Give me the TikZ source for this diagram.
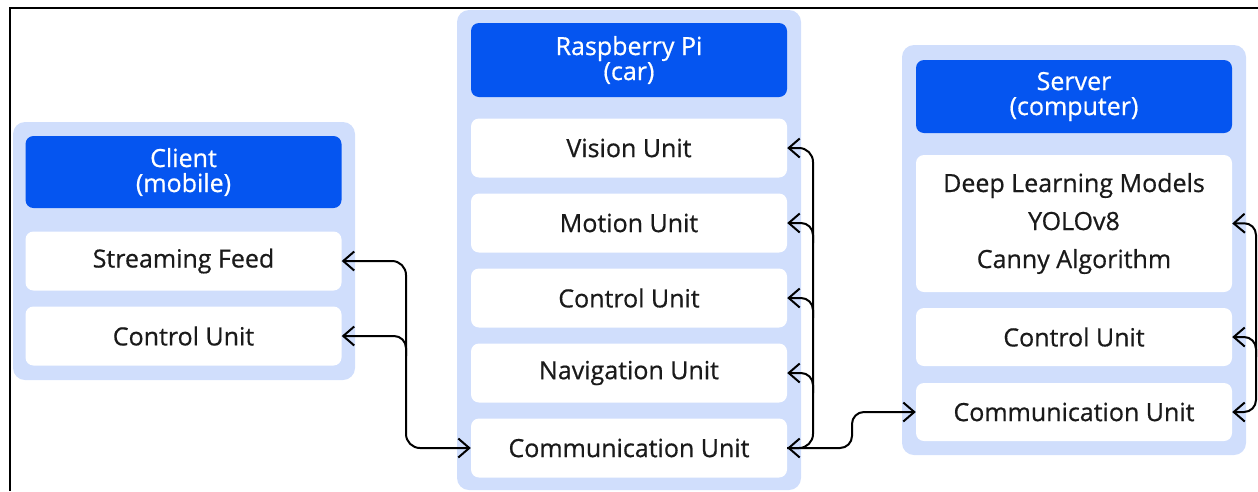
\documentclass[tikz,border=0pt]{standalone}
\usepackage{fontspec}
\setmainfont{Open Sans}[FakeBold=0.6]
\usetikzlibrary{arrows.meta}
\definecolor{panelblue}{HTML}{D0DEFC}
\definecolor{headblue}{HTML}{0555F0}
\definecolor{ink}{HTML}{1A1A1A}
\begin{document}
\begin{tikzpicture}[x=1pt,y=-1pt,
  panel/.style={fill=panelblue, rounded corners=12pt, inner sep=0pt, draw=none},
  head/.style={fill=headblue, rounded corners=8pt, text=white, align=center, inner sep=0pt, minimum width=316pt, font=\fontsize{25}{25}\selectfont},
  item/.style={fill=white, rounded corners=8pt, text=ink, align=center, inner sep=0pt, minimum width=316pt, minimum height=59pt, font=\fontsize{25}{25}\selectfont},
  link/.style={line width=2pt, draw=black, rounded corners=14pt, >={Straight Barb[length=11pt,width=19pt]}},
  frameline/.style={line width=2pt, draw=black}]
\useasboundingbox (0,0) rectangle (1258,491);
\draw[frameline] (10,491) -- (10,8) -- (1258,8);

% Client
\node[panel, minimum width=342pt, minimum height=258pt] (cpanel) at (184,251) {};
\node[head, minimum height=72pt] (chead) at (183.5,172) {Client\\(mobile)};
\node[item] (csf) at (183.5,261) {Streaming Feed};
\node[item] (ccu) at (183.5,336) {Control Unit};

% Raspberry Pi
\node[panel, minimum width=344pt, minimum height=480pt] (rpanel) at (629,250) {};
\node[head, minimum height=74pt] (rhead) at (629,60) {Raspberry Pi\\(car)};
\node[item] (rvis) at (629,148) {Vision Unit};
\node[item] (rmot) at (629,223) {Motion Unit};
\node[item] (rctl) at (629,298) {Control Unit};
\node[item] (rnav) at (629,373) {Navigation Unit};
\node[item] (rcom) at (629,448) {Communication Unit};

% Server
\node[panel, minimum width=344pt, minimum height=410pt] (spanel) at (1074,250) {};
\node[head, minimum height=73pt] (shead) at (1074,96.5) {Server\\(computer)};
\node[item, minimum height=137pt, font=\fontsize{25}{38}\selectfont] (sdl) at (1074,223.5) {Deep Learning Models\\YOLOv8\\Canny Algorithm};
\node[item, minimum height=58pt] (sctl) at (1074,337) {Control Unit};
\node[item, minimum height=58pt] (scom) at (1074,412) {Communication Unit};

% Client <-> Raspberry Pi
\draw[link, <->] (csf.east) -- (406,261) -- (406,448) -- (rcom.west);
\draw[link, <-, rounded corners=12pt] (ccu.east) -- (406,336) -- (406,356);

% Raspberry Pi internal
\draw[link, <->] (rvis.east) -- (813,148) -- (813,448) -- (rcom.east);
\draw[link, <-, rounded corners=12pt] (rmot.east) -- (813,223) -- (813,243);
\draw[link, <-, rounded corners=12pt] (rctl.east) -- (813,298) -- (813,318);
\draw[link, <-, rounded corners=12pt] (rnav.east) -- (813,373) -- (813,393);

% Raspberry Pi <-> Server
\draw[link, ->, rounded corners=12pt] (rcom.east) -- (852,448) -- (852,412) -- (scom.west);

% Server internal
\draw[link, <->, rounded corners=12pt] (sdl.east) -- (1256,223) -- (1256,412) -- (scom.east);
\draw[link, <-, rounded corners=12pt] (sctl.east) -- (1256,337) -- (1256,357);
\end{tikzpicture}
\end{document}
